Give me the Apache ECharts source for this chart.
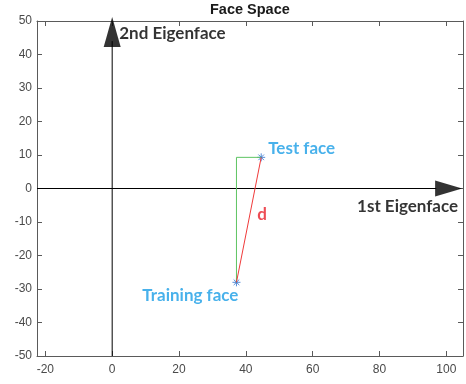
<!DOCTYPE html>
<html>
<head>
<meta charset="utf-8">
<script src="https://cdn.jsdelivr.net/npm/echarts@6/dist/echarts.min.js"></script>
<style>
  html, body { margin: 0; padding: 0; background: #fff; }
  #chart { width: 466px; height: 384px; }
</style>
</head>
<body>
<div id="chart"></div>
<script>
// Axis ranges and tick values of the face space plot
const xRange = [-22.5, 105];
const yRange = [-50, 50];
const xTicks = [-20, 0, 20, 40, 60, 80, 100];

// Projected faces in eigenface coordinates
const trainingFace = [37.2, -28];
const testFace = [44.6, 9.3];

// Eigenface axis lines and their arrowheads
const firstAxisLine = [[-22.5, 0], [97, 0]];
const secondAxisLine = [[0, -50], [0, 44]];
const firstAxisHead = [100.7, 0];
const secondAxisHead = [0, 46.7];

// Text annotations: [x, y, text, alignment]
const axisNames = [[73.3, -5.3, '1st Eigenface', 'left'], [2.1, 46.4, '2nd Eigenface', 'left']];
const faceNames = [[46.7, 12, 'Test face', 'left'], [23.4, -31.8, 'Training face', 'center']];
const distanceName = [44.9, -7.8, 'd', 'center'];

const labelFont = 'Lato, "Open Sans", sans-serif';
const tickFont = '"Liberation Sans", Arial, sans-serif';
const tickColor = '#4a4a4a';
const boxColor = '#5a5a5a';
const faceBlue = '#1a9de6';

// Asterisk marker, as drawn for plotted points
const asterisk = 'path://M0,5L10,5M5,0L5,10M1.5,1.5L8.5,8.5M8.5,1.5L1.5,8.5';

const chart = echarts.init(document.getElementById('chart'), null, { renderer: 'canvas' });

const boxLine = { show: true, onZero: false, lineStyle: { color: boxColor, width: 1 } };
const inTicks = { show: true, inside: true, length: 5, lineStyle: { color: boxColor } };

function textSeries(name, rows, color) {
  return {
    name: name, type: 'scatter', symbolSize: 0, silent: true,
    data: rows.map(d => ({
      value: [d[0], d[1]], name: d[2],
      label: { align: d[3] }
    })),
    label: {
      show: true, position: 'inside', verticalAlign: 'middle',
      formatter: p => p.name, color: color, fontFamily: labelFont, fontWeight: 'bold', fontSize: 17
    }
  };
}

chart.setOption({
  animation: false,
  backgroundColor: '#fff',
  title: {
    text: 'Face Space',
    left: 210,
    top: 2,
    padding: 0,
    textStyle: { fontFamily: tickFont, fontWeight: 'bold', fontSize: 14.5, color: '#1a1a1a' }
  },
  grid: { left: 37, right: 3, top: 21, bottom: 28, containLabel: false },
  xAxis: [
    {
      type: 'value', min: xRange[0], max: xRange[1], position: 'bottom',
      axisLine: boxLine,
      axisTick: Object.assign({ customValues: xTicks }, inTicks),
      axisLabel: { customValues: xTicks, color: tickColor, fontSize: 12, fontFamily: tickFont, margin: 8 },
      splitLine: { show: false }
    },
    {
      type: 'value', min: xRange[0], max: xRange[1], position: 'top',
      axisLine: boxLine,
      axisTick: Object.assign({ customValues: xTicks }, inTicks),
      axisLabel: { show: false },
      splitLine: { show: false }
    }
  ],
  yAxis: [
    {
      type: 'value', min: yRange[0], max: yRange[1], interval: 10, position: 'left',
      axisLine: boxLine,
      axisTick: inTicks,
      axisLabel: { color: tickColor, fontSize: 12, fontFamily: tickFont, margin: 5 },
      splitLine: { show: false }
    },
    {
      type: 'value', min: yRange[0], max: yRange[1], interval: 10, position: 'right',
      axisLine: boxLine,
      axisTick: inTicks,
      axisLabel: { show: false },
      splitLine: { show: false }
    }
  ],
  series: [
    {
      name: '1st Eigenface axis', type: 'line', data: firstAxisLine, symbol: 'none',
      lineStyle: { color: '#000', width: 1 }, silent: true
    },
    {
      name: '2nd Eigenface axis', type: 'line', data: secondAxisLine, symbol: 'none',
      lineStyle: { color: '#000', width: 1 }, silent: true
    },
    {
      name: 'arrowheads', type: 'scatter', clip: false, silent: true,
      itemStyle: { color: '#000' },
      data: [
        { value: firstAxisHead, symbol: 'triangle', symbolSize: [16, 27], symbolRotate: -90 },
        { value: secondAxisHead, symbol: 'triangle', symbolSize: [17, 30] }
      ]
    },
    {
      name: 'components', type: 'line', symbol: 'none',
      data: [trainingFace, [trainingFace[0], testFace[1]], testFace],
      lineStyle: { color: '#5ec462', width: 1 }
    },
    {
      name: 'distance', type: 'line', symbol: 'none',
      data: [trainingFace, testFace],
      lineStyle: { color: '#f03a3a', width: 1 }
    },
    {
      name: 'faces', type: 'scatter', symbol: asterisk, symbolSize: 8,
      itemStyle: { color: 'none', borderColor: '#2a6fd0', borderWidth: 1 },
      data: [trainingFace, testFace]
    },
    textSeries('axis names', axisNames, '#000'),
    textSeries('face names', faceNames, faceBlue),
    textSeries('distance name', [distanceName], '#e8202a')
  ]
});
</script>
</body>
</html>
